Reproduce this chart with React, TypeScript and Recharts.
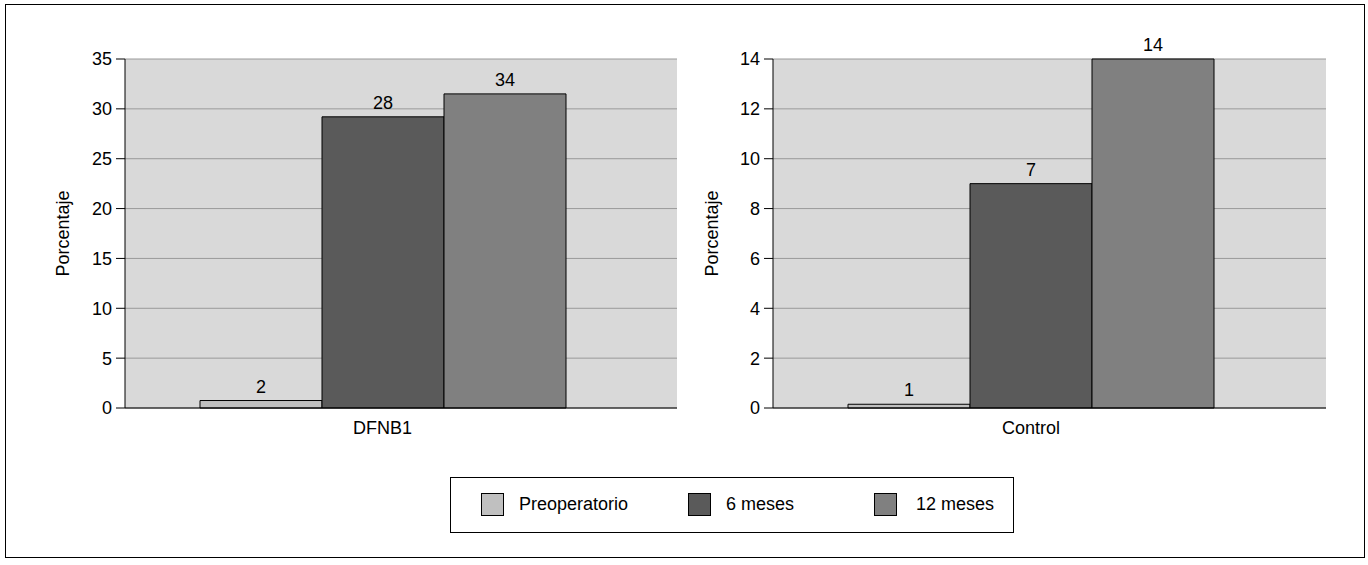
import React from "react";
import {
  Bar,
  BarChart,
  CartesianGrid,
  LabelList,
  XAxis,
  YAxis,
} from "recharts";

// series
const seriesNames = ["Preoperatorio", "6 meses", "12 meses"];
const seriesKeys = ["pre", "m6", "m12"];
const seriesColors = ["#c0c0c0", "#5a5a5a", "#808080"];

// left panel
const dfnb1Category = "DFNB1";
const dfnb1Values = [0.75, 29.2, 31.5];
const dfnb1Labels = [2, 28, 34];
const dfnb1Ticks = [0, 5, 10, 15, 20, 25, 30, 35];

// right panel
const controlCategory = "Control";
const controlValues = [0.15, 9, 14];
const controlLabels = [1, 7, 14];
const controlTicks = [0, 2, 4, 6, 8, 10, 12, 14];

const FONT = '"Liberation Sans", Arial, Helvetica, sans-serif';
const tickStyle = { fill: "#000", fontSize: 18, fontFamily: FONT };

function buildRow(category: string, values: number[], labels: number[]) {
  const row: Record<string, string | number> = { name: category };
  seriesKeys.forEach((k, i) => {
    row[k] = values[i];
    row[k + "Label"] = labels[i];
  });
  return [row];
}

interface PanelProps {
  data: Record<string, string | number>[];
  ticks: number[];
  left: number;
  width: number;
  yAxisWidth: number;
  marginRight: number;
}

function Panel({ data, ticks, left, width, yAxisWidth, marginRight }: PanelProps) {
  const max = ticks[ticks.length - 1];
  return (
    <div style={{ position: "absolute", left, top: 0 }}>
      <BarChart
        width={width}
        height={450}
        data={data}
        margin={{ top: 59, right: marginRight, left: 0, bottom: 12 }}
        barGap={0}
        barCategoryGap={0}
      >
        <CartesianGrid
          vertical={false}
          fill="#d9d9d9"
          stroke="#9a9a9a"
          fillOpacity={1}
        />
        {seriesKeys.map((k, i) => (
          <Bar
            key={k}
            dataKey={k}
            name={seriesNames[i]}
            fill={seriesColors[i]}
            stroke="#000"
            strokeWidth={1}
            isAnimationActive={false}
          >
            <LabelList
              dataKey={k + "Label"}
              position="top"
              offset={8}
              style={{ fill: "#000", fontSize: 18, fontFamily: FONT }}
            />
          </Bar>
        ))}
        <XAxis
          dataKey="name"
          padding={{ left: 75, right: 112 }}
          tickLine={false}
          tickSize={0}
          tickMargin={13}
          height={30}
          axisLine={{ stroke: "#000" }}
          tick={tickStyle}
        />
        <YAxis
          domain={[0, max]}
          ticks={ticks}
          interval={0}
          width={yAxisWidth}
          tickSize={9}
          tickMargin={4}
          axisLine={{ stroke: "#000" }}
          tickLine={{ stroke: "#000" }}
          tick={tickStyle}
          label={{
            value: "Porcentaje",
            angle: -90,
            position: "center",
            style: { fill: "#000", fontSize: 18, fontFamily: FONT },
          }}
        />
        <XAxis
          xAxisId="top"
          orientation="top"
          dataKey="name"
          height={0}
          tick={false}
          tickLine={false}
          axisLine={{ stroke: "#000" }}
        />
        <YAxis
          yAxisId="right"
          orientation="right"
          domain={[0, max]}
          width={0}
          tick={false}
          tickLine={false}
          axisLine={{ stroke: "#000" }}
        />
      </BarChart>
    </div>
  );
}

const legendLefts = [30, 237, 423];

export default function App() {
  return (
    <div
      style={{
        position: "absolute",
        left: 0,
        top: 0,
        width: 1368,
        height: 565,
        background: "#fff",
        fontFamily: FONT,
      }}
    >
      <div
        style={{
          position: "absolute",
          left: 5,
          top: 4,
          width: 1358,
          height: 552,
          border: "1px solid #000",
        }}
      />
      <Panel
        data={buildRow(dfnb1Category, dfnb1Values, dfnb1Labels)}
        ticks={dfnb1Ticks}
        left={0}
        width={700}
        yAxisWidth={125}
        marginRight={23}
      />
      <Panel
        data={buildRow(controlCategory, controlValues, controlLabels)}
        ticks={controlTicks}
        left={650}
        width={700}
        yAxisWidth={123}
        marginRight={24}
      />
      <div
        style={{
          position: "absolute",
          left: 450,
          top: 477,
          width: 562,
          height: 54,
          border: "1px solid #000",
        }}
      >
        {seriesNames.map((name, i) => (
          <div
            key={name}
            style={{
              position: "absolute",
              left: legendLefts[i],
              top: 14,
              display: "flex",
              alignItems: "center",
              height: 24,
            }}
          >
            <div
              style={{
                width: 21,
                height: 21,
                background: seriesColors[i],
                border: "1px solid #000",
              }}
            />
            <span
              style={{
                marginLeft: i === 2 ? 19 : 15,
                fontSize: 18,
                color: "#000",
                whiteSpace: "nowrap",
              }}
            >
              {name}
            </span>
          </div>
        ))}
      </div>
    </div>
  );
}
